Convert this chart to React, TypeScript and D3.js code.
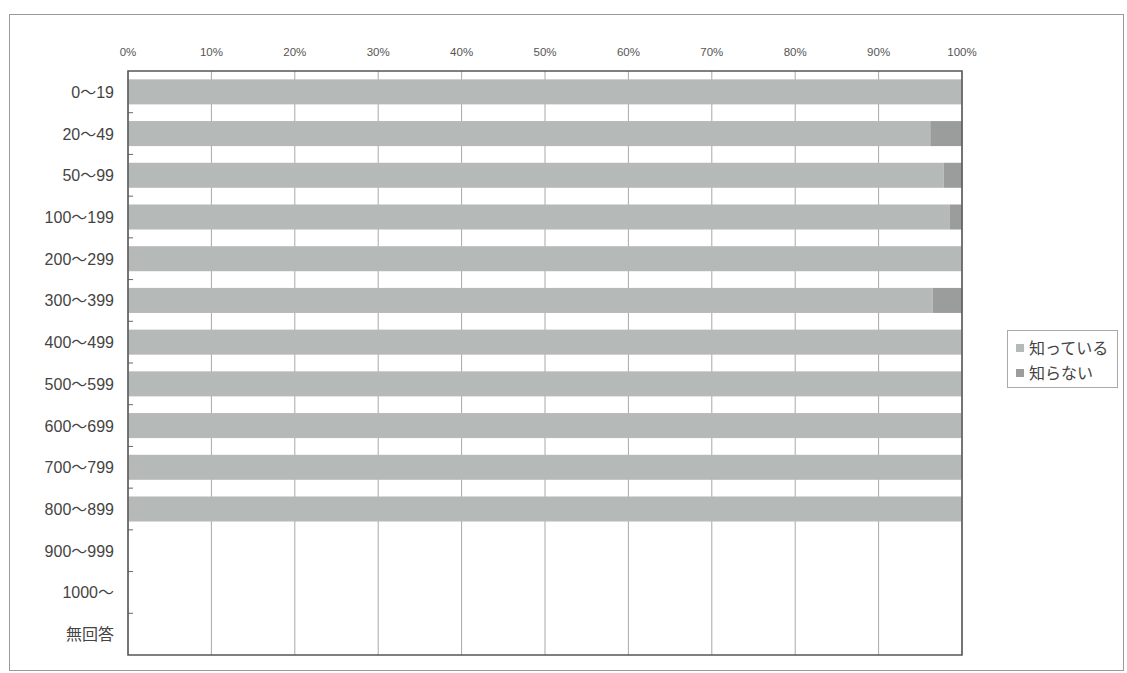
import React from "react";
import * as d3 from "d3";

const categories = ["0～19","20～49","50～99","100～199","200～299","300～399","400～499","500～599","600～699","700～799","800～899","900～999","1000～","無回答"];
const knowValues = [100, 96.2, 97.8, 98.5, 100, 96.5, 100, 100, 100, 100, 100, 0, 0, 0];
const dontKnowValues = [0, 3.8, 2.2, 1.5, 0, 3.5, 0, 0, 0, 0, 0, 0, 0, 0];
const seriesNames = ["知っている", "知らない"];
const xTicks = [0, 10, 20, 30, 40, 50, 60, 70, 80, 90, 100];

const W = 1127, H = 673;
const plot = { left: 128, right: 962, top: 71, bottom: 655 };
const colors = ["#b5b9b7", "#9a9d9c"];

export default function App() {
  const x = d3.scaleLinear().domain([0, 100]).range([plot.left, plot.right]);
  const y = d3.scaleBand<string>().domain(categories).range([plot.top, plot.bottom]).paddingInner(0.4).paddingOuter(0.2);
  const step = y.step();
  const font = "'Liberation Sans', Arial, 'Noto Sans CJK JP', sans-serif";
  return (
    <svg width={W} height={H} style={{ position: "absolute", left: 0, top: 0, background: "#fff" }} fontFamily={font}>
      <rect x={9.5} y={14.5} width={1114} height={656} fill="#fff" stroke="#9a9a9a" strokeWidth={1} />
      {xTicks.map((t) => (
        <g key={t}>
          <line x1={x(t)} x2={x(t)} y1={plot.top} y2={plot.bottom} stroke="#a8a8a8" strokeWidth={1} />
          <text x={x(t)} y={56} textAnchor="middle" fontSize={11.5} fontWeight={500} fill="#555">{t}%</text>
        </g>
      ))}
      {categories.map((c, i) => {
        const y0 = y(c)!;
        const bh = y.bandwidth();
        return (
          <g key={c}>
            {knowValues[i] > 0 && (
              <rect x={x(0)} y={y0} width={x(knowValues[i]) - x(0)} height={bh} fill={colors[0]} />
            )}
            {dontKnowValues[i] > 0 && (
              <rect x={x(knowValues[i])} y={y0} width={x(knowValues[i] + dontKnowValues[i]) - x(knowValues[i])} height={bh} fill={colors[1]} />
            )}
            <text x={114} y={y0 + bh / 2 + 6} textAnchor="end" fontSize={16} fill="#444">{c}</text>
          </g>
        );
      })}
      {categories.slice(1).map((c, i) => {
        const yy = plot.top + (i + 1) * step;
        return <line key={"t" + c} x1={plot.left} x2={plot.left + 5} y1={yy} y2={yy} stroke="#666" />;
      })}
      <rect x={plot.left} y={plot.top} width={plot.right - plot.left} height={plot.bottom - plot.top} fill="none" stroke="#555" strokeWidth={1.5} />
      <rect x={1007.5} y={330.5} width={110} height={57} fill="#fff" stroke="#aaa" />
      {seriesNames.map((s, i) => (
        <g key={s}>
          <rect x={1016} y={348 + i * 25 - 4} width={8} height={8} fill={colors[i]} />
          <text x={1029} y={348 + i * 25 + 6} fontSize={16} fill="#444" fontFamily="'Noto Sans CJK JP', sans-serif">{s}</text>
        </g>
      ))}
    </svg>
  );
}
